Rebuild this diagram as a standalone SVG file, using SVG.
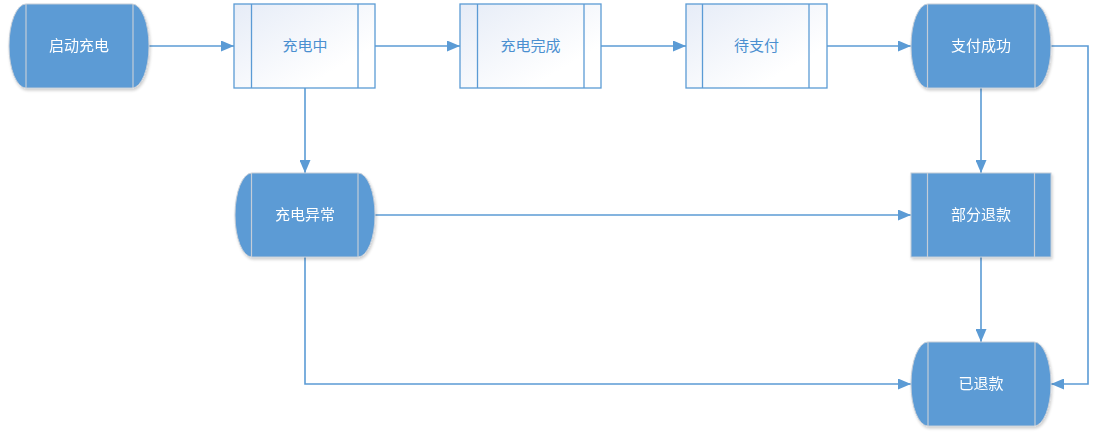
<svg xmlns="http://www.w3.org/2000/svg" width="1098" height="438" viewBox="0 0 1098 438">
<defs>
<linearGradient id="lg" x1="0" y1="0" x2="1" y2="1">
<stop offset="0" stop-color="#e6ecf7"/>
<stop offset="0.75" stop-color="#ffffff"/>
<stop offset="1" stop-color="#ffffff"/>
</linearGradient>
<filter id="sh" x="-10%" y="-10%" width="130%" height="130%">
<feGaussianBlur in="SourceAlpha" stdDeviation="1.5"/>
<feOffset dx="1" dy="2" result="b"/>
<feComponentTransfer><feFuncA type="linear" slope="0.2"/></feComponentTransfer>
<feMerge><feMergeNode/><feMergeNode in="SourceGraphic"/></feMerge>
</filter>
<marker id="ar" viewBox="0 0 13 11" refX="13" refY="5.5" markerWidth="13" markerHeight="11" markerUnits="userSpaceOnUse" orient="auto">
<path d="M0,0 L13,5.5 L0,11 Z" fill="#5b9bd5"/>
</marker>
</defs>
<style>
.term{fill:#5b9bd5;stroke:#c4cdd8;stroke-width:1}
.tl{stroke:#c4cdd8;stroke-width:1.2}
.proc{fill:url(#lg);stroke:#5b9bd5;stroke-width:1.3}
.pl{stroke:#5b9bd5;stroke-width:1.3}
.dproc{fill:#5b9bd5;stroke:#c4cdd8;stroke-width:1}
.wt{fill:#ffffff;font-family:"Noto Sans CJK SC","Noto Sans",sans-serif;font-size:15px;text-anchor:middle}
.bt{fill:#4a8fd0;font-family:"Noto Sans CJK SC","Noto Sans",sans-serif;font-size:15px;text-anchor:middle}
.c{fill:none;stroke:#5b9bd5;stroke-width:1.6;marker-end:url(#ar)}
</style>
<g id="connectors">
<path class="c" d="M149,46 H234"/>
<path class="c" d="M375,46 H460"/>
<path class="c" d="M601,46 H686"/>
<path class="c" d="M827,46 H911"/>
<path class="c" d="M305,88 V173"/>
<path class="c" d="M981,88 V173"/>
<path class="c" d="M1051,46 H1088 V384 H1051"/>
<path class="c" d="M375,215 H911"/>
<path class="c" d="M305,257 V384 H911"/>
<path class="c" d="M981,257 V342"/>
</g>
<g id="n1" filter="url(#sh)">
<path class="term" d="M26,4 H132 A17,42 0 0 1 132,88 H26 A17,42 0 0 1 26,4 Z"/>
<line class="tl" x1="26" y1="4" x2="26" y2="88"/>
<line class="tl" x1="133" y1="4" x2="133" y2="88"/>
<text class="wt" x="79" y="51">启动充电</text>
</g>
<g id="n2">
<rect class="proc" x="234" y="4" width="141" height="84"/>
<line class="pl" x1="251.5" y1="4" x2="251.5" y2="88"/>
<line class="pl" x1="358" y1="4" x2="358" y2="88"/>
<text class="bt" x="305" y="51">充电中</text>
</g>
<g id="n3">
<rect class="proc" x="460" y="4" width="141" height="84"/>
<line class="pl" x1="477.5" y1="4" x2="477.5" y2="88"/>
<line class="pl" x1="584" y1="4" x2="584" y2="88"/>
<text class="bt" x="530.5" y="51">充电完成</text>
</g>
<g id="n4">
<rect class="proc" x="686" y="4" width="141" height="84"/>
<line class="pl" x1="702.5" y1="4" x2="702.5" y2="88"/>
<line class="pl" x1="809" y1="4" x2="809" y2="88"/>
<text class="bt" x="756.5" y="51">待支付</text>
</g>
<g id="n5" filter="url(#sh)">
<path class="term" d="M928,4 H1034 A17,42 0 0 1 1034,88 H928 A17,42 0 0 1 928,4 Z"/>
<line class="tl" x1="927.5" y1="4" x2="927.5" y2="88"/>
<line class="tl" x1="1035" y1="4" x2="1035" y2="88"/>
<text class="wt" x="981" y="51">支付成功</text>
</g>
<g id="n6" filter="url(#sh)">
<path class="term" d="M252,173 H358 A17,42 0 0 1 358,257 H252 A17,42 0 0 1 252,173 Z"/>
<line class="tl" x1="251.5" y1="173" x2="251.5" y2="257"/>
<line class="tl" x1="358" y1="173" x2="358" y2="257"/>
<text class="wt" x="305" y="220">充电异常</text>
</g>
<g id="n7" filter="url(#sh)">
<rect class="dproc" x="911" y="173" width="140" height="84"/>
<line class="tl" x1="927.5" y1="173" x2="927.5" y2="257"/>
<line class="tl" x1="1034.5" y1="173" x2="1034.5" y2="257"/>
<text class="wt" x="981" y="220">部分退款</text>
</g>
<g id="n8" filter="url(#sh)">
<path class="term" d="M928,342 H1034 A17,42 0 0 1 1034,426 H928 A17,42 0 0 1 928,342 Z"/>
<line class="tl" x1="928" y1="342" x2="928" y2="426"/>
<line class="tl" x1="1035" y1="342" x2="1035" y2="426"/>
<text class="wt" x="981" y="389">已退款</text>
</g>
</svg>
